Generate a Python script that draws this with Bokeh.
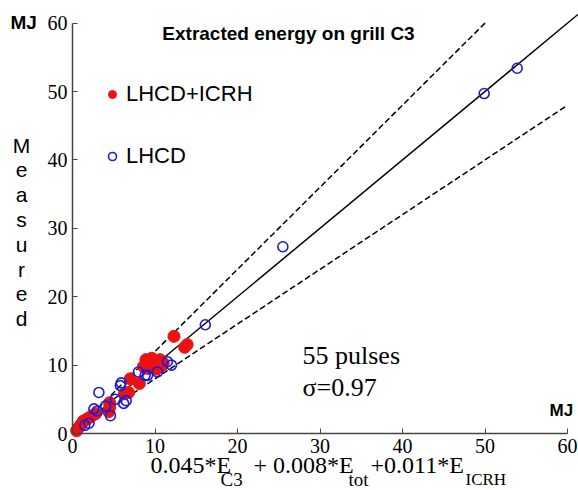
from bokeh.plotting import figure
from bokeh.models import (Range1d, FixedTicker, Label, Legend, LegendItem, LinearAxis)
from bokeh.embed import file_html
from bokeh.resources import INLINE

# ---- data (MJ) ----
combo_x = [0.5, 0.7, 0.9, 1.1, 1.3, 1.6, 2.0, 2.4, 2.8, 4.4, 4.5, 4.5, 6.3, 6.8,
           7.0, 8.1, 8.6, 8.9, 9.2, 9.4, 9.6, 9.8, 10.0, 10.2, 10.4, 10.6, 10.8,
           11.0, 9.0, 9.7, 12.3, 13.6, 13.9]
combo_y = [0.4, 0.8, 1.1, 1.4, 1.8, 2.0, 2.3, 2.6, 2.9, 3.2, 3.8, 4.5, 5.8, 6.0,
           8.0, 7.3, 9.8, 10.8, 9.5, 10.2, 11.0, 9.7, 10.5, 9.4, 10.1, 10.8, 9.9,
           10.3, 10.0, 10.4, 14.2, 12.6, 13.0]
lhcd_x = [3.2, 5.8, 5.9, 6.2, 4.6, 3.0, 2.6, 8.8, 9.1, 11.5, 8.0, 6.5, 4.0, 5.2,
          16.1, 25.5, 49.9, 53.9, 1.5, 2.0, 12.0, 10.3]
lhcd_y = [6.0, 7.0, 7.4, 4.4, 2.6, 3.3, 3.6, 8.5, 8.5, 10.5, 9.0, 4.8, 4.0, 5.0,
          15.9, 27.3, 49.7, 53.4, 1.2, 1.5, 10.0, 9.0]

# reference lines: slope and x end
ref_slopes = [1.0, 1.2, 0.8]
ref_x_end = [61.3, 50.0, 60.0]
ref_dash = ["solid", "6 3", "6 3"]

ticks = [0, 10, 20, 30, 40, 50, 60]
series_labels = ["LHCD+ICRH", "LHCD"]

W, H = 578, 490
X0, Y0, SX, SY = 72, 433, 8.25, 6.84   # pixel of origin and pixels per MJ

p = figure(width=W, height=H, output_backend="svg", toolbar_location=None,
           x_axis_location=None, y_axis_location=None,
           x_range=Range1d(-X0 / SX, (W - X0) / SX),
           y_range=Range1d((Y0 - H) / SY, Y0 / SY),
           min_border=0, min_border_left=0, min_border_right=0,
           min_border_top=0, min_border_bottom=0)
p.outline_line_color = None
p.grid.visible = False
p.background_fill_color = "white"
p.border_fill_color = "white"

xaxis = LinearAxis(fixed_location=0)
yaxis = LinearAxis(fixed_location=0)
p.add_layout(xaxis, "below")
p.add_layout(yaxis, "left")
for ax in (xaxis, yaxis):
    ax.ticker = FixedTicker(ticks=ticks)
    ax.bounds = (0, 60)
    ax.axis_line_color = "#444444"
    ax.axis_line_width = 1.5
    ax.major_tick_line_color = "#444444"
    ax.major_tick_in = 5
    ax.major_tick_out = 0
    ax.minor_tick_line_color = None
    ax.major_label_text_font = "Liberation Serif"
    ax.major_label_text_font_size = "20px"
    ax.major_label_text_color = "black"
    ax.major_label_standoff = 5

for s, xe, d in zip(ref_slopes, ref_x_end, ref_dash):
    p.line([0, xe], [0, s * xe], line_color="black", line_width=1.5, line_dash=d)

r_red = p.scatter(combo_x, combo_y, size=12, fill_color="#ee1111", line_color="#ee1111")
r_blue = p.scatter(lhcd_x, lhcd_y, size=10, fill_color=None, line_color="#1a1ad8", line_width=1.6)

legend = Legend(items=[LegendItem(label=series_labels[0], renderers=[r_red]),
                       LegendItem(label=series_labels[1], renderers=[r_blue])],
                location=(102, 321), glyph_width=20, glyph_height=20, label_height=20,
                spacing=36, padding=0, margin=0, border_line_color=None,
                background_fill_alpha=0, label_standoff=4, label_text_color="black",
                label_text_font="Liberation Sans", label_text_font_size="22px")
p.add_layout(legend)


def lab(text, px, py, size, font="Liberation Sans", style="normal", align="left"):
    p.add_layout(Label(x=(px - X0) / SX, y=(Y0 - py) / SY, text=text, text_font=font,
                       text_font_size=size, text_font_style=style, text_align=align,
                       text_baseline="middle", text_color="black"))


lab("Extracted energy on grill C3", 288, 33, "19px", style="bold", align="center")
lab("MJ", 10, 22, "19px", style="bold")
lab("MJ", 549, 410, "17px", style="bold")

for i, ch in enumerate("Measured"):
    lab(ch, 21, 145 + i * 24.7, "21px", align="center")

lab("55 pulses", 302, 355, "26px", font="Liberation Serif")
lab("σ=0.97", 302, 387, "26px", font="Liberation Serif")

# x-axis label with subscripts
segs = [("0.045*E", 150, 464, "24px"), ("C3", 220, 479, "19px"),
        ("+ 0.008*E", 253, 464, "24px"), ("tot", 348, 479, "19px"),
        ("+0.011*E", 370, 464, "24px"), ("ICRH", 465, 479, "17px")]
for t, x0, y0, sz in segs:
    lab(t, x0, y0, sz, font="Liberation Serif")

open("out.html", "w").write(file_html(p, INLINE))
